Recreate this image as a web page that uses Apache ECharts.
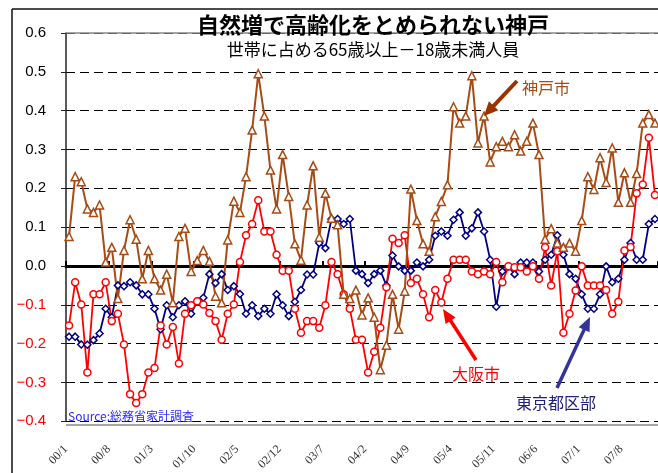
<!DOCTYPE html>
<html><head><meta charset="utf-8">
<script src="https://cdn.jsdelivr.net/npm/echarts@6/dist/echarts.min.js"></script>
<style>html,body{margin:0;padding:0;background:#fff}#c{width:658px;height:473px}</style>
</head><body><div id="c"></div>
<script>
// Categories: monthly 2000/1 .. 2008/1 (97 months)
const months = [];
for (let y = 0; y <= 8; y++) for (let m = 1; m <= 12; m++) if (months.length < 97) months.push(String(y).padStart(2, '0') + '/' + m);
// Boundary positions for labels (one more than categories)
const boundaryLabels = months.concat(['08/2']);

const kobe = [0.076,0.23,0.217,0.147,0.138,0.157,0.01,0.048,-0.084,0.04,
  0.119,0.069,-0.033,0.04,-0.033,-0.062,-0.021,-0.095,0.076,0.097,
  -0.014,0.014,0.04,0.012,-0.078,-0.095,0.067,0.167,0.138,0.23,
  0.35,0.495,0.386,0.247,0.147,0.287,0.179,0.057,0.015,0.157,
  0.258,0.074,0.187,0.123,0.106,-0.073,-0.084,-0.062,-0.126,-0.082,
  -0.132,-0.267,-0.204,-0.073,-0.163,-0.065,0.198,0.117,0.057,0.038,
  0.127,0.166,0.209,0.41,0.368,0.386,0.49,0.317,0.386,0.268,
  0.307,0.321,0.307,0.338,0.296,0.321,0.368,0.287,0.069,0.096,
  0.059,0.048,0.059,0.038,0.117,0.23,0.197,0.279,0.215,0.304,
  0.164,0.24,0.164,0.238,0.368,0.39,0.368];

const osaka = [-0.153,-0.042,-0.099,-0.274,-0.073,-0.073,-0.042,-0.142,-0.123,-0.202,
  -0.33,-0.353,-0.33,-0.274,-0.263,-0.153,-0.202,-0.157,-0.251,-0.123,
  -0.101,-0.091,-0.099,-0.121,-0.142,-0.19,-0.123,-0.099,0.01,0.079,
  0.108,0.169,0.089,0.089,0.029,-0.012,-0.012,-0.11,-0.172,-0.142,
  -0.142,-0.159,-0.101,0.01,-0.021,-0.073,-0.11,-0.19,-0.19,-0.274,
  -0.221,-0.159,-0.055,0.07,0.059,0.079,-0.044,-0.033,-0.073,-0.132,
  -0.062,-0.094,-0.033,0.016,0.016,0.016,-0.014,-0.021,-0.014,-0.021,
  0.01,-0.042,-0.001,-0.003,-0.003,-0.014,-0.001,-0.033,0.048,-0.05,
  0.038,-0.172,-0.123,-0.063,-0.001,-0.05,-0.05,-0.05,-0.062,-0.123,
  -0.092,0.04,0.049,0.187,0.21,0.33,0.183];

const tokyo = [-0.182,-0.182,-0.202,-0.203,-0.191,-0.174,-0.11,-0.132,-0.05,-0.052,
  -0.042,-0.05,-0.073,-0.073,-0.11,-0.163,-0.101,-0.132,-0.101,-0.091,
  -0.123,-0.091,-0.082,-0.021,-0.044,-0.021,-0.062,-0.052,-0.072,-0.123,
  -0.101,-0.129,-0.11,-0.123,-0.073,-0.101,-0.129,-0.092,-0.062,-0.022,
  -0.022,0.059,0.046,0.121,0.121,0.108,0.121,-0.012,-0.021,-0.044,
  -0.021,-0.012,-0.05,0.027,-0.001,-0.012,-0.012,0.009,-0.001,0.016,
  0.078,0.089,0.078,0.119,0.138,0.078,0.097,0.138,0.089,0.016,
  -0.105,-0.014,-0.001,-0.021,0.009,0.009,0.009,-0.014,0.016,0.029,
  0.079,0.029,-0.021,-0.033,-0.073,-0.11,-0.11,-0.073,-0.001,-0.042,
  -0.033,0.016,0.059,0.016,0.016,0.108,0.121];

const BROWN = '#A84B14', RED = '#FF0000', NAVY = '#000080';
const JP = '"Noto Sans CJK JP", "Noto Sans", sans-serif';

function arrow(x1, y1, x2, y2, color, w, hl, hw) {
  const dx = x2 - x1, dy = y2 - y1, L = Math.hypot(dx, dy);
  const ux = dx / L, uy = dy / L, px = -uy, py = ux;
  const bx = x2 - ux * hl, by = y2 - uy * hl;
  return [
    { type: 'line', z: 100, shape: { x1: x1, y1: y1, x2: bx + ux * 2, y2: by + uy * 2 }, style: { stroke: color, lineWidth: w } },
    { type: 'polygon', z: 100, shape: { points: [[x2, y2], [bx + px * hw / 2, by + py * hw / 2], [bx - px * hw / 2, by - py * hw / 2]] }, style: { fill: color } }
  ];
}

const chart = echarts.init(document.getElementById('c'), null, { renderer: 'canvas' });

chart.setOption({
  animation: false,
  backgroundColor: '#fff',
  grid: { left: 66, right: 0, top: 33, bottom: 48, show: false },
  xAxis: [
    {
      type: 'category', data: months, boundaryGap: true,
      axisLine: { onZero: true, lineStyle: { color: '#000', width: 3 } },
      axisTick: { show: true, interval: 6, inside: true, length: 5, lineStyle: { color: '#000', width: 2 } },
      axisLabel: { show: false }, splitLine: { show: false }
    },
    {
      type: 'category', data: boundaryLabels, boundaryGap: false, position: 'bottom',
      axisLine: { show: false, onZero: false }, axisTick: { show: false },
      axisLabel: { interval: 6, rotate: 45, margin: 26, fontSize: 12, fontFamily: '"Liberation Serif", serif', color: '#333' },
      splitLine: { show: false }
    }
  ],
  yAxis: {
    type: 'value', min: -0.4, max: 0.6, interval: 0.1,
    axisLine: { show: true, lineStyle: { color: '#222', width: 1.5 } },
    axisTick: { show: true, length: 5, lineStyle: { color: '#222', width: 1 } },
    axisLabel: {
      margin: 20, fontSize: 15, fontFamily: '"Liberation Sans", Arial, sans-serif',
      formatter: function (v) { const s = Math.abs(v).toFixed(1); return v < -1e-9 ? '\u2212' + s : s; },
      color: function (v) { return Number(v) < -1e-9 ? '#FF0000' : '#000'; }
    },
    splitLine: { show: true, lineStyle: { type: [9, 5], color: '#000', width: 1 } }
  },
  series: [
    { name: '東京都区部', type: 'line', xAxisIndex: 0, data: tokyo, symbol: 'diamond', symbolSize: 7, showAllSymbol: true,
      lineStyle: { color: NAVY, width: 1.8 }, itemStyle: { color: '#fff', borderColor: NAVY, borderWidth: 1.5 } },
    { name: '大阪市', type: 'line', xAxisIndex: 0, data: osaka, symbol: 'circle', symbolSize: 7, showAllSymbol: true,
      lineStyle: { color: RED, width: 1.8 }, itemStyle: { color: '#fff', borderColor: RED, borderWidth: 1.5 } },
    { name: '神戸市', type: 'line', xAxisIndex: 0, data: kobe, symbol: 'triangle', symbolSize: 8, showAllSymbol: true,
      lineStyle: { color: BROWN, width: 2 }, itemStyle: { color: '#fff', borderColor: BROWN, borderWidth: 1.5 } }
  ],
  graphic: [
    { type: 'line', z: 90, shape: { x1: 66, y1: 33, x2: 658, y2: 33 }, style: { stroke: '#888', lineWidth: 1.5 } },
    { type: 'line', z: 90, shape: { x1: 66, y1: 425, x2: 658, y2: 425 }, style: { stroke: '#888', lineWidth: 1.5 } },
    { type: 'line', z: 100, shape: { x1: 12, y1: 9, x2: 658, y2: 9 }, style: { stroke: '#111', lineWidth: 1.5 } },
    { type: 'line', z: 100, shape: { x1: 12, y1: 9, x2: 12, y2: 473 }, style: { stroke: '#111', lineWidth: 1.5 } },
    { type: 'text', z: 100, style: { text: '自然増で高齢化をとめられない神戸', x: 373, y: 25, textAlign: 'center', textVerticalAlign: 'middle', font: 'bold 22px ' + JP, fill: '#000' } },
    { type: 'text', z: 100, style: { text: '世帯に占める65歳以上－18歳未満人員', x: 373, y: 50, textAlign: 'center', textVerticalAlign: 'middle', font: '17px ' + JP, fill: '#000' } },
    { type: 'text', z: 100, style: { text: 'Source:総務省家計調査', x: 68, y: 416, textAlign: 'left', textVerticalAlign: 'middle', font: '12px ' + JP, fill: '#2B2BFF' } },
    { type: 'text', z: 100, style: { text: '神戸市', x: 546, y: 88, textAlign: 'center', textVerticalAlign: 'middle', font: '16px ' + JP, fill: BROWN } },
    { type: 'text', z: 100, style: { text: '大阪市', x: 476, y: 374, textAlign: 'center', textVerticalAlign: 'middle', font: '16px ' + JP, fill: RED } },
    { type: 'text', z: 100, style: { text: '東京都区部', x: 556, y: 403, textAlign: 'center', textVerticalAlign: 'middle', font: '16px ' + JP, fill: '#202080' } }
  ].concat(arrow(517, 81, 484, 116, '#993300', 4, 14, 13))
   .concat(arrow(476, 360, 443, 309, '#FF0000', 3.5, 14, 12))
   .concat(arrow(557, 388, 590, 317, '#333399', 3.5, 14, 12))
});
</script>
</body></html>
